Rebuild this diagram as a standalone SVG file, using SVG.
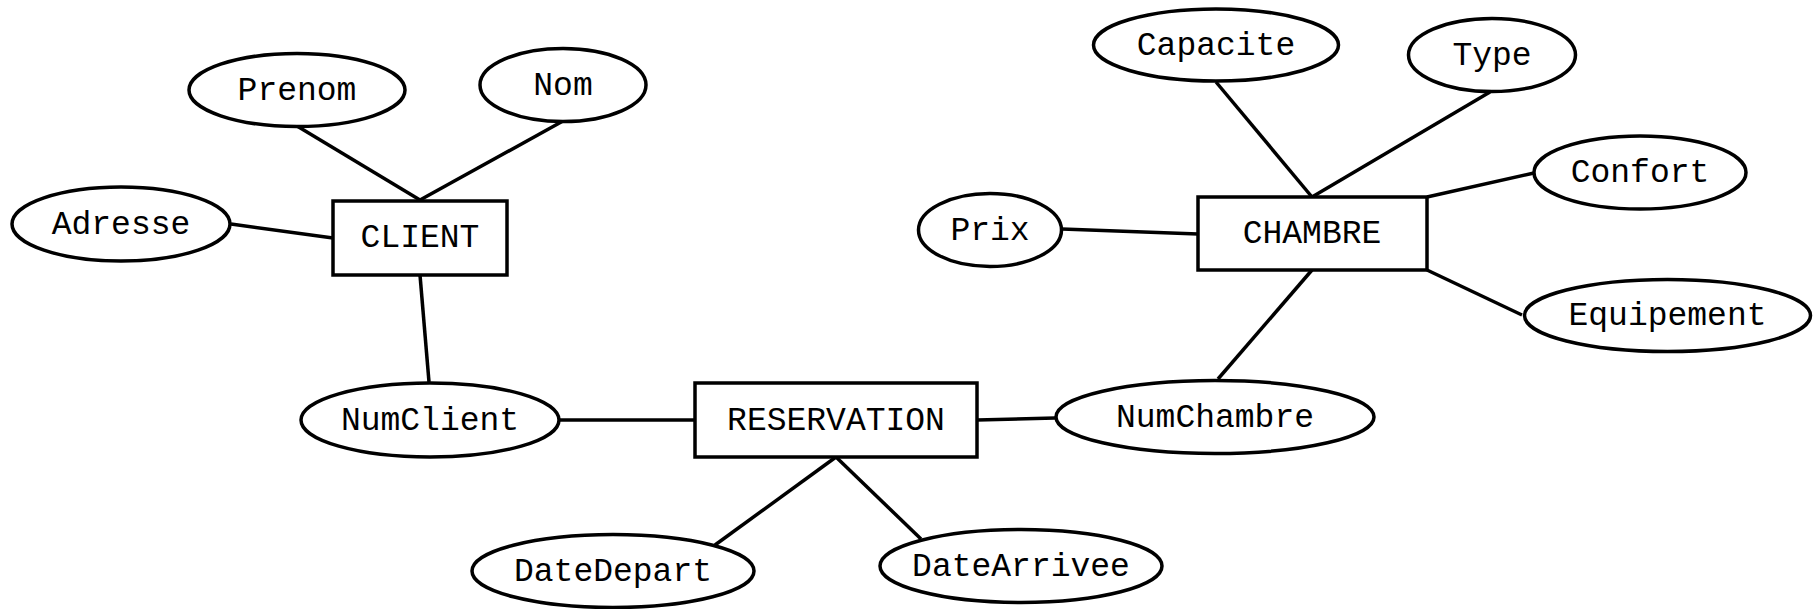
<svg xmlns="http://www.w3.org/2000/svg" width="1818" height="609" viewBox="0 0 1818 609">
  <style>
    .entity { fill: #ffffff; stroke: #000000; stroke-width: 3.5; }
    .attr { fill: #ffffff; stroke: #000000; stroke-width: 3.5; }
    .link { stroke: #000000; stroke-width: 3.5; fill: none; }
    text { font-family: "Liberation Mono", "Courier New", monospace; font-size: 33px; fill: #000000; text-anchor: middle; }
  </style>
  <rect width="1818" height="609" fill="#ffffff"/>

  <!-- connectors -->
  <g id="connectors">
    <line class="link" x1="297" y1="126" x2="420" y2="200"/>
    <line class="link" x1="563" y1="121" x2="420" y2="200"/>
    <line class="link" x1="231" y1="224" x2="333" y2="238"/>
    <line class="link" x1="420" y1="275" x2="429" y2="382"/>
    <line class="link" x1="560" y1="420" x2="695" y2="420"/>
    <line class="link" x1="977" y1="420" x2="1055" y2="418"/>
    <line class="link" x1="836" y1="457" x2="715" y2="545"/>
    <line class="link" x1="836" y1="457" x2="921" y2="539"/>
    <line class="link" x1="1218" y1="379" x2="1312" y2="270"/>
    <line class="link" x1="1216" y1="82" x2="1312" y2="197"/>
    <line class="link" x1="1490" y1="92" x2="1312" y2="197"/>
    <line class="link" x1="1534" y1="173" x2="1427" y2="197"/>
    <line class="link" x1="1062" y1="229" x2="1198" y2="234"/>
    <line class="link" x1="1427" y1="270" x2="1522" y2="315"/>
  </g>

  <!-- CLIENT entity and its attributes -->
  <g id="client">
    <rect class="entity" x="333" y="201" width="174" height="74"/>
    <text x="420" y="247">CLIENT</text>
  </g>
  <g id="prenom">
    <ellipse class="attr" cx="297" cy="90" rx="108" ry="36.5"/>
    <text x="297" y="99.5">Prenom</text>
  </g>
  <g id="nom">
    <ellipse class="attr" cx="563" cy="85" rx="83" ry="36.5"/>
    <text x="563" y="94.5">Nom</text>
  </g>
  <g id="adresse">
    <ellipse class="attr" cx="121" cy="224" rx="109" ry="37"/>
    <text x="121" y="233.5">Adresse</text>
  </g>
  <g id="numclient">
    <ellipse class="attr" cx="430" cy="420" rx="129" ry="37"/>
    <text x="430" y="429.5">NumClient</text>
  </g>

  <!-- RESERVATION entity and its attributes -->
  <g id="reservation">
    <rect class="entity" x="695" y="383" width="282" height="74"/>
    <text x="836" y="429.5">RESERVATION</text>
  </g>
  <g id="datedepart">
    <ellipse class="attr" cx="613" cy="571" rx="141" ry="36.5"/>
    <text x="613" y="580.5">DateDepart</text>
  </g>
  <g id="datearrivee">
    <ellipse class="attr" cx="1021" cy="566" rx="141" ry="36.5"/>
    <text x="1021" y="575.5">DateArrivee</text>
  </g>
  <g id="numchambre">
    <ellipse class="attr" cx="1215" cy="417" rx="159" ry="36.5"/>
    <text x="1215" y="426.5">NumChambre</text>
  </g>

  <!-- CHAMBRE entity and its attributes -->
  <g id="chambre">
    <rect class="entity" x="1198" y="197" width="229" height="73"/>
    <text x="1312" y="243">CHAMBRE</text>
  </g>
  <g id="prix">
    <ellipse class="attr" cx="990" cy="230" rx="71.5" ry="36.5"/>
    <text x="990" y="239.5">Prix</text>
  </g>
  <g id="capacite">
    <ellipse class="attr" cx="1216" cy="45" rx="122.5" ry="36"/>
    <text x="1216" y="54.5">Capacite</text>
  </g>
  <g id="type">
    <ellipse class="attr" cx="1492" cy="55" rx="83.5" ry="36.5"/>
    <text x="1492" y="64.5">Type</text>
  </g>
  <g id="confort">
    <ellipse class="attr" cx="1640" cy="172.5" rx="106" ry="36.5"/>
    <text x="1640" y="182">Confort</text>
  </g>
  <g id="equipement">
    <ellipse class="attr" cx="1667.5" cy="315.5" rx="143" ry="36"/>
    <text x="1667.5" y="325">Equipement</text>
  </g>
</svg>
